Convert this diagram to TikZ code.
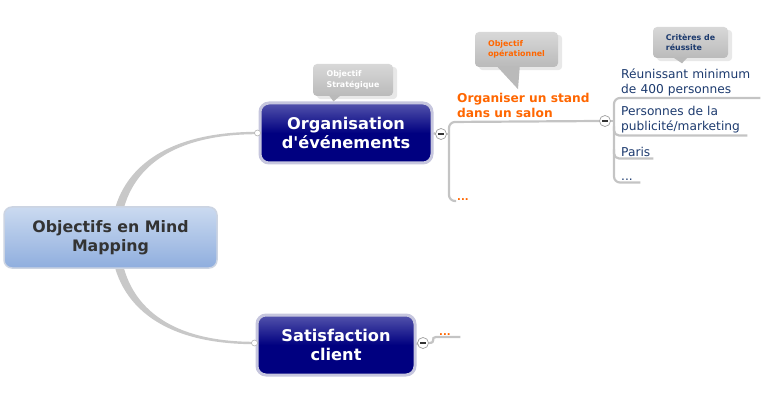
\documentclass[tikz,border=0pt]{standalone}
\usepackage{fontspec}
\setmainfont{DejaVu Sans}[Ligatures=ResetAll]
\usetikzlibrary{calc}
\pgfdeclarelayer{background}
\pgfsetlayers{background,main}
\definecolor{navy}{RGB}{0,0,128}
\definecolor{navytop}{RGB}{84,84,172}
\definecolor{navyedge}{RGB}{198,198,222}
\definecolor{roottop}{RGB}{203,218,240}
\definecolor{rootbot}{RGB}{143,174,222}
\definecolor{rootedge}{RGB}{204,212,226}
\definecolor{arcgray}{RGB}{200,200,200}
\definecolor{brgray}{RGB}{196,196,196}
\definecolor{orng}{RGB}{255,102,0}
\definecolor{critblue}{RGB}{28,58,110}
\definecolor{calltop}{RGB}{216,216,216}
\definecolor{callbot}{RGB}{186,186,186}
\definecolor{callshadow}{RGB}{232,232,232}
\definecolor{txtdark}{RGB}{51,51,51}
\begin{document}
\begin{tikzpicture}[x=1pt,y=-1pt,
  rootbox/.style={rounded corners=8pt, draw=rootedge, line width=1.5pt,
    top color=roottop, bottom color=rootbot, text=txtdark,
    font=\bfseries\fontsize{15.8}{19.5}\selectfont, align=center, inner sep=0pt},
  navybox/.style={rounded corners=9pt, draw=navyedge, line width=3pt,
    top color=navytop, bottom color=navy, middle color=navy, text=white,
    font=\bfseries\fontsize{16.2}{19.5}\selectfont, align=center, inner sep=0pt},
  callbox/.style={rounded corners=4pt, top color=calltop, bottom color=callbot,
    font=\bfseries\fontsize{7.9}{10.5}\selectfont, align=left, inner sep=0pt},
  callptr/.style={fill=callbot},
  callshade/.style={fill=callshadow, rounded corners=4pt},
  endcirc/.style={circle, draw=gray!60, fill=white, line width=0.6pt, minimum size=6pt, inner sep=0pt},
  collapse/.style={circle, draw=gray!75, fill=white, line width=0.7pt, minimum size=11pt, inner sep=0pt,
    path picture={\draw[line width=1.4pt, black!80]
      ([xshift=2.8pt]path picture bounding box.west) -- ([xshift=-2.8pt]path picture bounding box.east);}},
  branch/.style={draw=brgray, line width=2.2pt},
  optext/.style={text=orng, font=\bfseries\fontsize{12.2}{15}\selectfont, align=left, inner sep=2pt},
  dotstext/.style={text=orng, font=\bfseries\fontsize{10}{12}\selectfont, inner sep=1pt},
  crit/.style={text=critblue, font=\fontsize{12.2}{15}\selectfont, align=left, inner xsep=7pt, inner ysep=2pt, anchor=south west}
]
\useasboundingbox (0,0) rectangle (780,401);

% main nodes
\node[rootbox, minimum width=213pt, minimum height=61pt] (root) at (110.5,237.5) {Objectifs en Mind\\Mapping};
\node[navybox, minimum width=172pt, minimum height=60pt] (org) at (346,133) {Organisation\\d\textquotesingle événements};
\node[navybox, minimum width=158pt, minimum height=60pt] (sat) at (336,345) {Satisfaction\\client};

% end circles of the main arc
\node[endcirc] (e1) at ($(org.west)+(-1,0)$) {};
\node[endcirc] (e2) at ($(sat.west)+(-1,-2)$) {};

% collapse buttons
\node[collapse] (c1) at (441,134) {};
\node[collapse] (c2) at (605,121) {};
\node[collapse] (c3) at (423,343) {};

% topic texts
\node[optext, anchor=south west] (op) at (455,120) {Organiser un stand\\dans un salon};
\node[dotstext, anchor=base west] (d1) at (456,201) {...};
\node[dotstext, anchor=south west, minimum width=24pt, align=left, text width=18pt] (d2) at (436,337) {...};

% criteria
\node[crit, text width=132pt] (r1) at (614,98) {Réunissant minimum\\de 400 personnes};
\node[crit, text width=119pt] (r2) at (614,135.5) {Personnes de la\\publicité/marketing};
\node[crit, text width=25pt] (r3) at (614,158.5) {Paris};
\node[crit, text width=12pt] (r4) at (614,182.5) {...};

% callouts
\node[callbox, text=white, minimum width=80pt, minimum height=32pt] (cs) at (353,80) {Objectif\\Stratégique};
\node[callbox, text=orng, minimum width=83pt, minimum height=35pt] (co) at (516.5,49.5) {Objectif\\opérationnel};
\node[callbox, text=critblue, minimum width=75pt, minimum height=31pt] (cr) at (690.5,42.5) {Critères de\\réussite};
\coordinate (tipS) at ($(org.north west)+(75,0)$);
\coordinate (tipO) at ($(op.north west)+(63,-2)$);
\coordinate (tipC) at ($(r1.north west)+(68,-3)$);
\fill[callptr] ($(cs.south west)+(16,-1)$) -- (tipS) -- ($(cs.south west)+(28,-1)$) -- cycle;
\fill[callptr] ($(co.south west)+(22,-1)$) -- (tipO) -- ($(co.south west)+(45,-1)$) -- cycle;
\fill[callptr] ($(cr.south west)+(20,-1)$) -- (tipC) -- ($(cr.south west)+(35,-1)$) -- cycle;

\begin{pgfonlayer}{background}
  % callout shadows
  \fill[callshade] ($(cs.north west)+(4,3)$) rectangle ($(cs.south east)+(4,3)$);
  \fill[callshade] ($(co.north west)+(4,3)$) rectangle ($(co.south east)+(4,3)$);
  \fill[callshade] ($(cr.north west)+(4,3)$) rectangle ($(cr.south east)+(4,3)$);
  % main arc
  \fill[arcgray] ($(e1.center)+(0,-1.2)$) .. controls (150,131.8) and (111,182) .. (111,238)
     .. controls (111,294) and (150,344.2) .. ($(e2.center)+(0,1.2)$)
     -- ($(e2.center)+(0,-1.2)$) .. controls (156,341.8) and (120,294) .. (120,238)
     .. controls (120,182) and (156,134.2) .. ($(e1.center)+(0,1.2)$) -- cycle;
  % organisation branches
  \draw[branch] (org.east) -- (c1.west);
  \coordinate (sp1) at (449,122);
  \draw[branch, rounded corners=6pt] (c2.west) -- (sp1) -- (sp1 |- d1.base) -- (d1.base west);
  \draw[branch] (c1.east) -- (c1.east -| sp1);
  % criteria spine
  \draw[branch] (c2.east) -- (c2.east -| r1.south west);
  \draw[branch, rounded corners=6pt] (r1.south east) -- (r1.south west) -- (r4.south west) -- (r4.south east);
  \draw[branch, rounded corners=5pt] ($(r2.south west)+(0,-9)$) |- (r2.south east);
  \draw[branch, rounded corners=5pt] ($(r3.south west)+(0,-9)$) |- (r3.south east);
  % satisfaction branch
  \draw[branch] (sat.east) -- (c3.west);
  \draw[branch] (c3.east) .. controls ($(c3.east)+(8,0)$) and ($(d2.south west)+(-6,0)$) .. (d2.south west) -- (d2.south east);
\end{pgfonlayer}
\end{tikzpicture}
\end{document}
